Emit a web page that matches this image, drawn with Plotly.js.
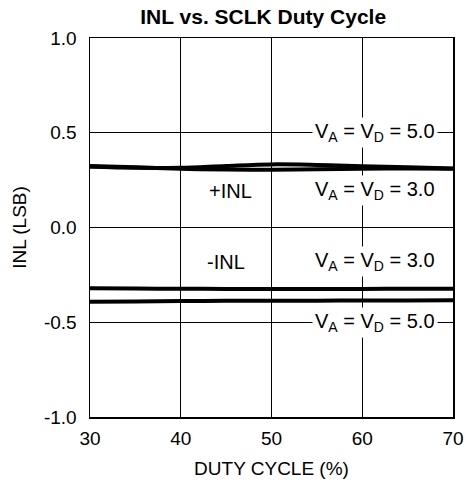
<!DOCTYPE html>
<html>
<head>
<meta charset="utf-8">
<script src="https://cdn.plot.ly/plotly-3.0.1.min.js"></script>
<style>html,body{margin:0;padding:0;background:#fff;}#chart{width:465px;height:485px;}</style>
</head>
<body>
<div id="chart"></div>
<script>
// Data
const duty = [30, 35, 40, 45, 50, 55, 60, 65, 70];
const posINL_5V0 = [0.320, 0.315, 0.315, 0.325, 0.333, 0.330, 0.323, 0.318, 0.312];
const posINL_3V0 = [0.325, 0.318, 0.310, 0.306, 0.305, 0.307, 0.310, 0.311, 0.310];
const negINL_3V0 = [-0.320, -0.322, -0.323, -0.324, -0.325, -0.325, -0.324, -0.323, -0.323];
const negINL_5V0 = [-0.392, -0.390, -0.388, -0.387, -0.386, -0.386, -0.385, -0.385, -0.384];
const xTicks = [30, 40, 50, 60, 70];
const yTicks = [-1.0, -0.5, 0.0, 0.5, 1.0];
const yTickText = ['-1.0', '-0.5', '0.0', '0.5', '1.0'];
const labels = [
  {text: 'V<sub>A</sub> = V<sub>D</sub> = 5.0', x: 61.4, y: 0.5},
  {text: '+INL', x: 45.5, y: 0.195},
  {text: 'V<sub>A</sub> = V<sub>D</sub> = 3.0', x: 61.4, y: 0.195},
  {text: '-INL', x: 45.0, y: -0.18},
  {text: 'V<sub>A</sub> = V<sub>D</sub> = 3.0', x: 61.4, y: -0.18},
  {text: 'V<sub>A</sub> = V<sub>D</sub> = 5.0', x: 61.4, y: -0.5}
];

const lineStyle = {color: '#000', width: 4, shape: 'spline'};
const series = [posINL_5V0, posINL_3V0, negINL_3V0, negINL_5V0];
const traces = series.map(s => ({
  x: duty, y: s, type: 'scatter', mode: 'lines', line: lineStyle, showlegend: false, hoverinfo: 'skip'
}));

const font = {family: '"Liberation Sans", Arial, sans-serif', color: '#000'};

const layout = {
  width: 465, height: 485,
  margin: {l: 90, r: 12, t: 38, b: 68},
  paper_bgcolor: '#fff', plot_bgcolor: '#fff',
  font: Object.assign({size: 19}, font),
  title: {text: '<b>INL vs. SCLK Duty Cycle</b>', xref: 'container', x: 0.566, xanchor: 'center',
          yref: 'container', y: 0.965, yanchor: 'middle', font: Object.assign({size: 21}, font)},
  xaxis: {
    range: [30, 70], tickvals: xTicks, ticktext: xTicks.map(String),
    showgrid: true, gridcolor: '#000', gridwidth: 1,
    showline: true, linecolor: '#000', linewidth: 1.5, mirror: true,
    ticks: '', ticklabelstandoff: 4, zeroline: false,
    tickfont: Object.assign({size: 19}, font),
    title: {text: 'DUTY CYCLE (%)', standoff: 13, font: Object.assign({size: 19}, font)}
  },
  yaxis: {
    range: [-1.0, 1.0], tickvals: yTicks, ticktext: yTickText,
    showgrid: true, gridcolor: '#000', gridwidth: 1,
    showline: true, linecolor: '#000', linewidth: 1.5, mirror: true,
    ticks: '', ticklabelstandoff: 8, zeroline: false,
    tickfont: Object.assign({size: 19}, font),
    title: {text: 'INL (LSB)', standoff: 12, font: Object.assign({size: 19}, font)}
  },
  annotations: labels.map(a => ({
    text: a.text, x: a.x, y: a.y, xref: 'x', yref: 'y', showarrow: false,
    bgcolor: '#fff', borderpad: 2, font: Object.assign({size: 20}, font),
    xanchor: 'center', yanchor: 'middle'
  }))
};

Plotly.newPlot('chart', traces, layout, {staticPlot: true, displayModeBar: false});
</script>
</body>
</html>
